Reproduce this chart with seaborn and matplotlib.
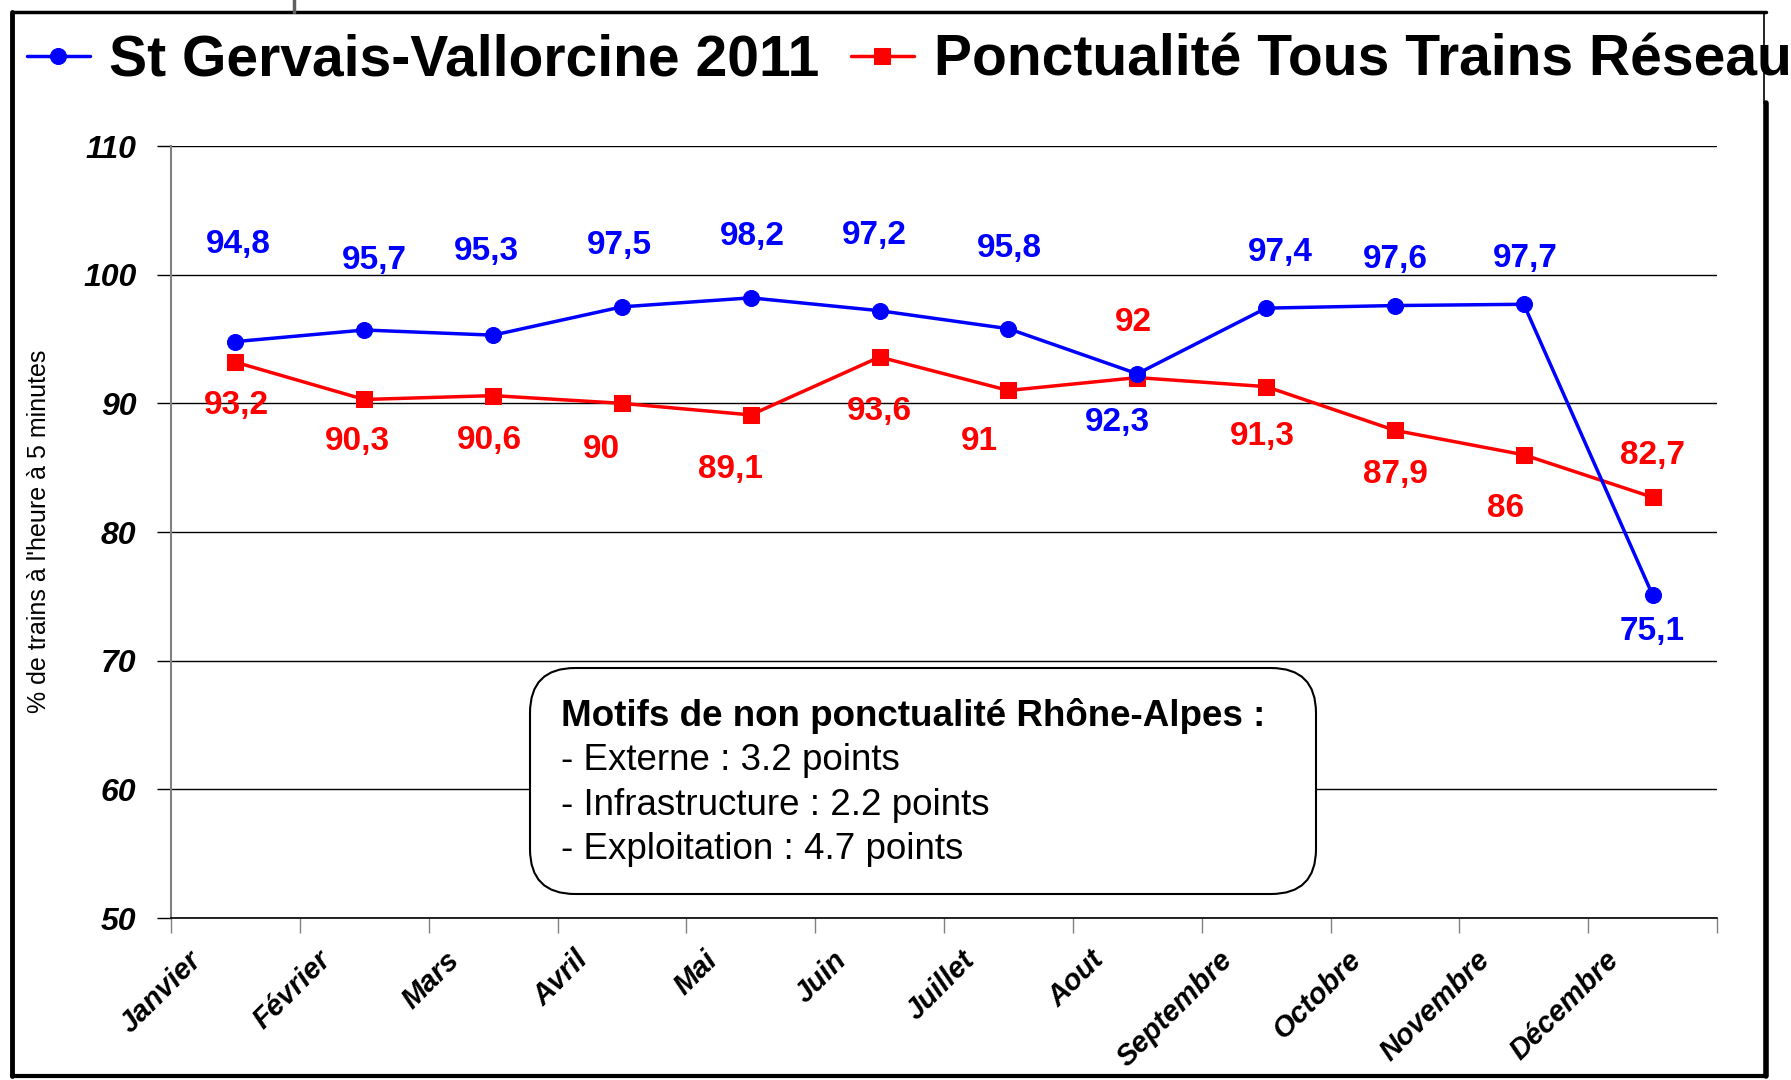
import numpy as np
import pandas as pd
import matplotlib
matplotlib.use("Agg")
import matplotlib.pyplot as plt
from matplotlib.patches import FancyBboxPatch
from matplotlib.lines import Line2D
import seaborn as sns

# Ponctualite mensuelle 2011
months = ["Janvier", "Février", "Mars", "Avril", "Mai", "Juin", "Juillet",
          "Aout", "Septembre", "Octobre", "Novembre", "Décembre"]
st_gervais = [94.8, 95.7, 95.3, 97.5, 98.2, 97.2, 95.8, 92.3, 97.4, 97.6, 97.7, 75.1]
reseau = [93.2, 90.3, 90.6, 90.0, 89.1, 93.6, 91.0, 92.0, 91.3, 87.9, 86.0, 82.7]

label_blue = "St Gervais-Vallorcine 2011"
label_red = "Ponctualité Tous Trains Réseau"
y_label = "% de trains à l'heure à 5 minutes"
box_title = "Motifs de non ponctualité Rhône-Alpes :"
box_lines = ["- Externe : 3.2 points", "- Infrastructure : 2.2 points",
             "- Exploitation : 4.7 points"]

# decalage des etiquettes (points)
off_blue = [(2, 70), (7, 50), (-5, 60), (-2, 44), (1, 44), (-4, 54),
            (1, 58), (-14, -35), (10, 40), (0, 33), (1, 33), (0, -26)]
off_red = [(1, -31), (-5, -30), (-3, -32), (-15, -33), (-15, -39), (0, -39),
           (-21, -37), (-3, 40), (-3, -36), (0, -32), (-13, -39), (0, 30)]

sns.set_theme(style="white")
plt.rcParams["font.family"] = ["Liberation Sans", "DejaVu Sans"]
plt.rcParams.update({"text.color": "black", "axes.labelcolor": "black",
                     "xtick.color": "black", "ytick.color": "black"})

BLUE = "#0000FF"
RED = "#FF0000"

df = pd.DataFrame({"pos": np.arange(len(months)) + 0.5,
                   "blue": st_gervais, "red": reseau})

fig = plt.figure(figsize=(17.91, 10.8), dpi=100)
ax = fig.add_axes([0.0955, 0.15, 0.8632, 0.7148])

sns.lineplot(data=df, x="pos", y="blue", ax=ax, color=BLUE, marker="o",
             markersize=11.5, markeredgecolor=BLUE, linewidth=2.5, label=label_blue, zorder=4)
sns.lineplot(data=df, x="pos", y="red", ax=ax, color=RED, marker="s",
             markersize=11.5, markeredgecolor=RED, linewidth=2.5, label=label_red, zorder=3)

for x, v, (dx, dy) in zip(df["pos"], st_gervais, off_blue):
    ax.annotate(f"{v:g}".replace(".", ","), (x, v), xytext=(dx, dy),
                textcoords="offset points", ha="center", va="center",
                color=BLUE, fontsize=24, fontweight="bold")
for x, v, (dx, dy) in zip(df["pos"], reseau, off_red):
    ax.annotate(f"{v:g}".replace(".", ","), (x, v), xytext=(dx, dy),
                textcoords="offset points", ha="center", va="center",
                color=RED, fontsize=24, fontweight="bold")

ax.set_xlim(0, len(months))
ax.set_ylim(50, 110)
ax.set_yticks(range(50, 111, 10))
ax.set_yticklabels([str(t) for t in range(50, 111, 10)],
                   fontsize=23, fontweight="bold", fontstyle="italic")
ax.yaxis.grid(True, color="black", linewidth=1)
ax.set_axisbelow(True)

ax.set_xticks(range(len(months) + 1))
ax.set_xticklabels([])
ax.set_xticks(np.arange(len(months)) + 0.13, minor=True)
ax.set_xticklabels(months, minor=True, rotation=45, ha="right", va="top",
                   rotation_mode="anchor", fontsize=21, fontweight="bold",
                   fontstyle="italic")
ax.tick_params(axis="x", which="major", direction="out", length=11, width=1,
               color="#808080", bottom=True)
ax.tick_params(axis="x", which="minor", length=0, pad=20, bottom=True)
ax.tick_params(axis="y", direction="out", length=10, width=1, color="black",
               pad=15, left=True)
ax.set_xlabel("")
ax.set_ylabel("")
for s in ["top", "right"]:
    ax.spines[s].set_visible(False)
ax.spines["left"].set_color("#808080")
ax.spines["left"].set_linewidth(1.5)
ax.spines["bottom"].set_color("black")
ax.spines["bottom"].set_linewidth(1.2)

handles, labels = ax.get_legend_handles_labels()
ax.legend_.remove()
fig.legend(handles, labels, loc="center left", bbox_to_anchor=(0.015, 0.944),
           ncol=2, frameon=False, prop=dict(weight="bold", size=41),
           handlelength=1.1, handletextpad=0.35, columnspacing=0.55,
           borderaxespad=0, borderpad=0)

fig.text(0.022, 0.508, y_label, rotation=90, ha="center", va="center",
         fontsize=18)

# encadre des motifs
box = FancyBboxPatch((5.30, 1.86), 7.86, 2.26,
                     boxstyle="round,pad=0,rounding_size=0.45",
                     transform=fig.dpi_scale_trans, facecolor="white",
                     edgecolor="black", linewidth=1.5, zorder=5)
fig.add_artist(box)
fig.text(0.313, 0.337, box_title, ha="left", va="center", fontsize=26.5,
         fontweight="bold", zorder=6)
for i, line in enumerate(box_lines):
    fig.text(0.313, 0.337 - (i + 1) * 0.0412, line, ha="left", va="center",
             fontsize=26.5, zorder=6)

# cadre de la diapositive
frame = dict(color="black", transform=fig.transFigure)
fig.add_artist(Line2D([0.0065, 0.0065], [0.004, 0.989], linewidth=3.5, **frame))
fig.add_artist(Line2D([0.0065, 0.986], [0.989, 0.989], linewidth=2.5, **frame))
fig.add_artist(Line2D([0.985, 0.985], [0.905, 0.989], linewidth=1.2, **frame))
fig.add_artist(Line2D([0.986, 0.986], [0.004, 0.905], linewidth=4, **frame))
fig.add_artist(Line2D([0.0065, 0.986], [0.004, 0.004], linewidth=3, **frame))
fig.add_artist(Line2D([0.164, 0.164], [0.989, 1.0], linewidth=2.5, color="#606060",
                      transform=fig.transFigure))

fig.savefig("out.png", dpi=100)
